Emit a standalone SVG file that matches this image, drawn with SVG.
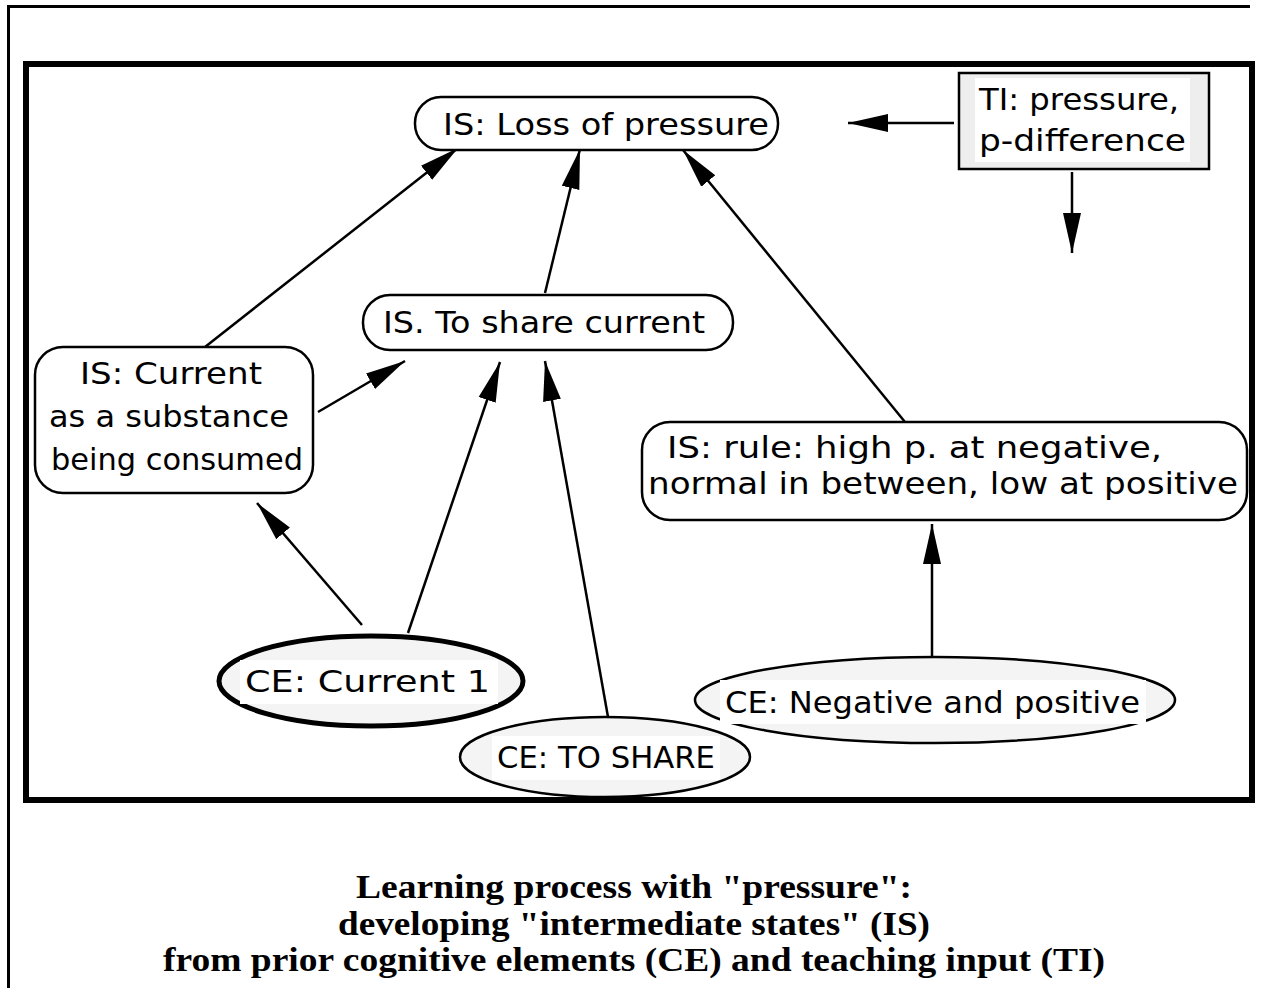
<svg xmlns="http://www.w3.org/2000/svg" width="1268" height="988" viewBox="0 0 1268 988">
<defs>
<style>
.t{font-family:"DejaVu Sans","Liberation Sans",sans-serif;font-size:30px;fill:#000}
.cap{font-family:"Liberation Serif","Times New Roman",serif;font-size:34px;font-weight:bold;fill:#000;text-anchor:middle}
.is{fill:#fff;stroke:#000;stroke-width:2.5}
.ce{fill:#f4f4f4;stroke:#000;stroke-width:2.5}
.ce.thick{stroke-width:5}
.bg{fill:#fff}
.c line{stroke:#000;stroke-width:2.5;marker-end:url(#ah)}
</style>
<marker id="ah" markerUnits="userSpaceOnUse" markerWidth="40" markerHeight="20" refX="40" refY="10" orient="auto">
<path d="M0,1 L40,10 L0,19 z" fill="#000"/>
</marker>
</defs>
<rect width="1268" height="988" fill="#fff"/>
<path d="M8.5,988 V6.5 H1250" fill="none" stroke="#000" stroke-width="3"/>
<rect x="26" y="64" width="1226" height="736" fill="none" stroke="#000" stroke-width="6"/>

<g class="c" id="connectors">
<line x1="205" y1="347" x2="458" y2="148"/>
<line x1="545" y1="293" x2="580" y2="149"/>
<line x1="905" y1="422" x2="683" y2="150"/>
<line x1="318" y1="412" x2="405" y2="361"/>
<line x1="362" y1="625" x2="257" y2="503"/>
<line x1="408" y1="633" x2="500" y2="362"/>
<line x1="608" y1="717" x2="545" y2="361"/>
<line x1="932" y1="657" x2="932" y2="524"/>
<line x1="954" y1="123" x2="848" y2="123"/>
<line x1="1072" y1="172" x2="1072" y2="253"/>
</g>

<g id="loss">
<rect class="is" x="415" y="97" width="363" height="53" rx="26"/>
<text class="t" x="443" y="135" textLength="326" lengthAdjust="spacingAndGlyphs">IS: Loss of pressure</text>
</g>

<g id="ti">
<rect x="959" y="73" width="250" height="96" fill="#eeeeee" stroke="#000" stroke-width="2.5"/>
<rect class="bg" x="975" y="78" width="215" height="84"/>
<text class="t" x="979" y="110" textLength="200" lengthAdjust="spacingAndGlyphs">TI: pressure,</text>
<text class="t" x="979" y="151" textLength="207" lengthAdjust="spacingAndGlyphs">p-difference</text>
</g>

<g id="share">
<rect class="is" x="363" y="295" width="370" height="55" rx="27"/>
<text class="t" x="383" y="333" textLength="322" lengthAdjust="spacingAndGlyphs">IS. To share current</text>
</g>

<g id="current">
<rect class="is" x="35" y="347" width="278" height="146" rx="28"/>
<text class="t" x="80" y="384" textLength="182" lengthAdjust="spacingAndGlyphs">IS: Current</text>
<text class="t" x="49" y="427" textLength="240" lengthAdjust="spacingAndGlyphs">as a substance</text>
<text class="t" x="51" y="470" textLength="252" lengthAdjust="spacingAndGlyphs">being consumed</text>
</g>

<g id="rule">
<rect class="is" x="642" y="422" width="605" height="98" rx="28"/>
<text class="t" x="667" y="458" textLength="495" lengthAdjust="spacingAndGlyphs">IS: rule: high p. at negative,</text>
<text class="t" x="648" y="494" textLength="590" lengthAdjust="spacingAndGlyphs">normal in between, low at positive</text>
</g>

<g id="ce-current">
<ellipse class="ce thick" cx="371" cy="681" rx="152" ry="45"/>
<rect class="bg" x="240" y="660" width="258" height="44"/>
<text class="t" x="245" y="692" textLength="245" lengthAdjust="spacingAndGlyphs">CE: Current 1</text>
</g>

<g id="ce-share">
<ellipse class="ce" cx="605" cy="757" rx="145" ry="40"/>
<rect class="bg" x="492" y="736" width="228" height="44"/>
<text class="t" x="497" y="768" textLength="218" lengthAdjust="spacingAndGlyphs">CE: TO SHARE</text>
</g>

<g id="ce-neg">
<ellipse class="ce" cx="935" cy="700" rx="240" ry="43"/>
<rect class="bg" x="720" y="680" width="426" height="44"/>
<text class="t" x="725" y="713" textLength="415" lengthAdjust="spacingAndGlyphs">CE: Negative and positive</text>
</g>

<g id="caption">
<text class="cap" x="634" y="898" textLength="556" lengthAdjust="spacingAndGlyphs">Learning process with "pressure":</text>
<text class="cap" x="634" y="935" textLength="592" lengthAdjust="spacingAndGlyphs">developing "intermediate states" (IS)</text>
<text class="cap" x="634" y="971" textLength="942" lengthAdjust="spacingAndGlyphs">from prior cognitive elements (CE) and teaching input (TI)</text>
</g>
</svg>
